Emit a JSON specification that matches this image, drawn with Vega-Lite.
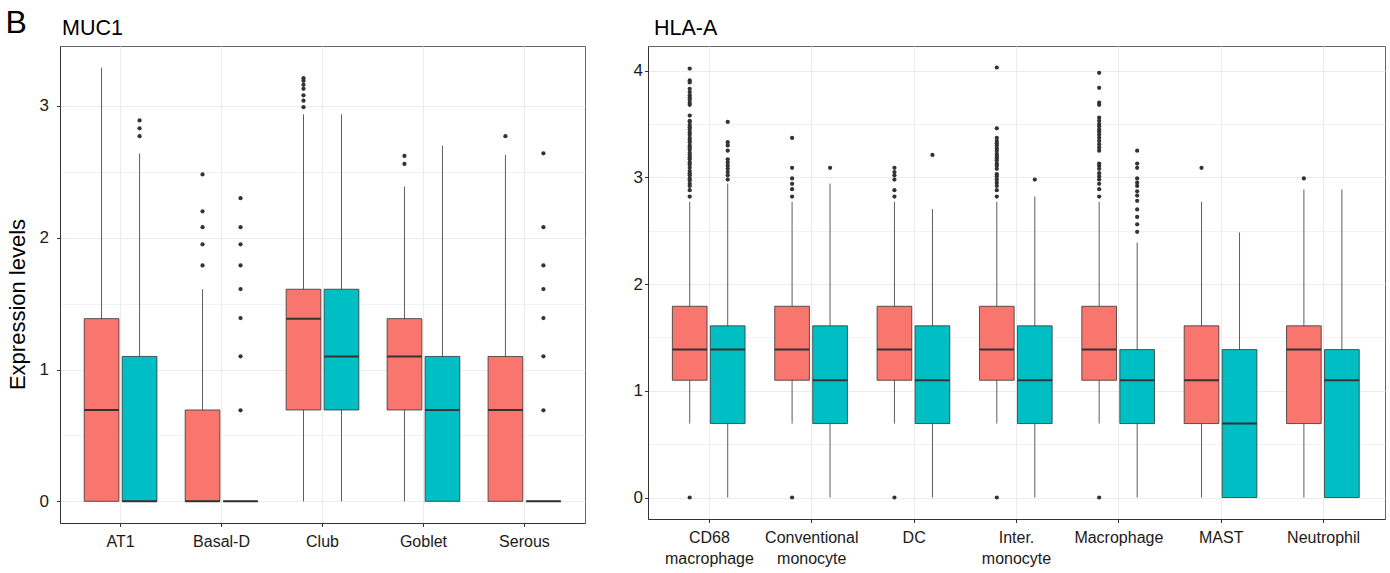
{
  "$schema": "https://vega.github.io/schema/vega-lite/v6.json",
  "background": "white",
  "padding": {"left": 5, "top": 7, "right": 4, "bottom": 5},
  "title": {"text": "B", "anchor": "start", "frame": "bounds", "fontSize": 32, "fontWeight": "normal", "color": "black", "font": "Liberation Sans", "offset": -23},
  "config": {
    "font": "Liberation Sans",
    "view": {"stroke": "#666666", "strokeWidth": 1},
    "axis": {"labelFont": "Liberation Sans", "titleFont": "Liberation Sans", "labelColor": "#1a1a1a", "tickColor": "#333333", "domainColor": "#333333", "gridColor": "#EBEBEB", "tickSize": 3.5},
    "title": {"font": "Liberation Sans", "fontWeight": "normal", "color": "black"}
  },
  "datasets": {
    "boxes": [
      {"panel": "MUC1", "cell": "AT1", "group": "Group 1", "lower": 0, "q1": 0, "median": 0.693, "q3": 1.386, "upper": 3.29, "outliers": []},
      {"panel": "MUC1", "cell": "AT1", "group": "Group 2", "lower": 0, "q1": 0, "median": 0, "q3": 1.099, "upper": 2.639, "outliers": [2.77, 2.83, 2.89]},
      {"panel": "MUC1", "cell": "Basal-D", "group": "Group 1", "lower": 0, "q1": 0, "median": 0, "q3": 0.693, "upper": 1.609, "outliers": [1.79, 1.95, 2.08, 2.2, 2.48]},
      {"panel": "MUC1", "cell": "Basal-D", "group": "Group 2", "lower": 0, "q1": 0, "median": 0, "q3": 0, "upper": 0, "outliers": [0.69, 1.1, 1.39, 1.61, 1.79, 1.95, 2.08, 2.3]},
      {"panel": "MUC1", "cell": "Club", "group": "Group 1", "lower": 0, "q1": 0.693, "median": 1.386, "q3": 1.609, "upper": 2.936, "outliers": [2.99, 3.04, 3.08, 3.13, 3.16, 3.19, 3.21]},
      {"panel": "MUC1", "cell": "Club", "group": "Group 2", "lower": 0, "q1": 0.693, "median": 1.099, "q3": 1.609, "upper": 2.936, "outliers": []},
      {"panel": "MUC1", "cell": "Goblet", "group": "Group 1", "lower": 0, "q1": 0.693, "median": 1.099, "q3": 1.386, "upper": 2.389, "outliers": [2.56, 2.62]},
      {"panel": "MUC1", "cell": "Goblet", "group": "Group 2", "lower": 0, "q1": 0, "median": 0.693, "q3": 1.099, "upper": 2.699, "outliers": []},
      {"panel": "MUC1", "cell": "Serous", "group": "Group 1", "lower": 0, "q1": 0, "median": 0.693, "q3": 1.099, "upper": 2.63, "outliers": [2.77]},
      {"panel": "MUC1", "cell": "Serous", "group": "Group 2", "lower": 0, "q1": 0, "median": 0, "q3": 0, "upper": 0, "outliers": [0.69, 1.1, 1.39, 1.61, 1.79, 2.08, 2.64]},
      {"panel": "HLA-A", "cell": "CD68 macrophage", "group": "Group 1", "lower": 0.693, "q1": 1.099, "median": 1.386, "q3": 1.792, "upper": 2.771, "outliers": [0, 2.82, 2.88, 2.92, 2.94, 2.97, 2.99, 3.02, 3.04, 3.06, 3.09, 3.12, 3.14, 3.17, 3.19, 3.21, 3.23, 3.26, 3.28, 3.3, 3.33, 3.35, 3.37, 3.4, 3.42, 3.45, 3.47, 3.49, 3.52, 3.53, 3.58, 3.68, 3.7, 3.73, 3.75, 3.77, 3.8, 3.83, 3.89, 3.91, 4.02]},
      {"panel": "HLA-A", "cell": "CD68 macrophage", "group": "Group 2", "lower": 0, "q1": 0.693, "median": 1.386, "q3": 1.609, "upper": 2.943, "outliers": [2.98, 3.02, 3.05, 3.08, 3.11, 3.14, 3.17, 3.25, 3.3, 3.33, 3.52]},
      {"panel": "HLA-A", "cell": "Conventional monocyte", "group": "Group 1", "lower": 0.693, "q1": 1.099, "median": 1.386, "q3": 1.792, "upper": 2.771, "outliers": [0, 2.82, 2.89, 2.94, 2.99, 3.09, 3.37]},
      {"panel": "HLA-A", "cell": "Conventional monocyte", "group": "Group 2", "lower": 0, "q1": 0.693, "median": 1.099, "q3": 1.609, "upper": 2.943, "outliers": [3.09]},
      {"panel": "HLA-A", "cell": "DC", "group": "Group 1", "lower": 0.693, "q1": 1.099, "median": 1.386, "q3": 1.792, "upper": 2.771, "outliers": [0, 2.82, 2.88, 2.98, 3.02, 3.05, 3.09]},
      {"panel": "HLA-A", "cell": "DC", "group": "Group 2", "lower": 0, "q1": 0.693, "median": 1.099, "q3": 1.609, "upper": 2.703, "outliers": [3.21]},
      {"panel": "HLA-A", "cell": "Inter. monocyte", "group": "Group 1", "lower": 0.693, "q1": 1.099, "median": 1.386, "q3": 1.792, "upper": 2.771, "outliers": [0, 2.82, 2.88, 2.92, 2.95, 2.98, 3.01, 3.03, 3.08, 3.11, 3.13, 3.16, 3.18, 3.2, 3.22, 3.25, 3.27, 3.3, 3.32, 3.34, 3.37, 3.46, 4.03]},
      {"panel": "HLA-A", "cell": "Inter. monocyte", "group": "Group 2", "lower": 0, "q1": 0.693, "median": 1.099, "q3": 1.609, "upper": 2.821, "outliers": [2.98]},
      {"panel": "HLA-A", "cell": "Macrophage", "group": "Group 1", "lower": 0.693, "q1": 1.099, "median": 1.386, "q3": 1.792, "upper": 2.771, "outliers": [0, 2.82, 2.89, 2.94, 2.98, 3.01, 3.04, 3.08, 3.11, 3.13, 3.25, 3.28, 3.31, 3.34, 3.37, 3.4, 3.43, 3.45, 3.48, 3.5, 3.53, 3.56, 3.68, 3.7, 3.84, 3.98]},
      {"panel": "HLA-A", "cell": "Macrophage", "group": "Group 2", "lower": 0, "q1": 0.693, "median": 1.099, "q3": 1.386, "upper": 2.39, "outliers": [2.49, 2.56, 2.63, 2.7, 2.78, 2.83, 2.87, 2.92, 2.95, 2.99, 3.09, 3.13, 3.25]},
      {"panel": "HLA-A", "cell": "MAST", "group": "Group 1", "lower": 0, "q1": 0.693, "median": 1.099, "q3": 1.609, "upper": 2.771, "outliers": [3.09]},
      {"panel": "HLA-A", "cell": "MAST", "group": "Group 2", "lower": 0, "q1": 0, "median": 0.693, "q3": 1.386, "upper": 2.484, "outliers": []},
      {"panel": "HLA-A", "cell": "Neutrophil", "group": "Group 1", "lower": 0, "q1": 0.693, "median": 1.386, "q3": 1.609, "upper": 2.887, "outliers": [2.99]},
      {"panel": "HLA-A", "cell": "Neutrophil", "group": "Group 2", "lower": 0, "q1": 0, "median": 1.099, "q3": 1.386, "upper": 2.887, "outliers": []}
    ]
  },
  "spacing": 46,
  "hconcat": [
    {
      "width": 525,
      "height": 477,
      "title": {"text": "MUC1", "anchor": "start", "frame": "group", "fontSize": 21.5, "offset": 7, "dx": 2},
      "data": {"name": "boxes"},
      "transform": [{"filter": "datum.panel === 'MUC1'"}],
      "encoding": {
        "x": {"field": "cell", "type": "nominal", "sort": null, "scale": {"paddingInner": 0, "paddingOuter": 0.1},
              "axis": {"title": null, "labelAngle": 0, "labelFontSize": 16, "bandPosition": 0.5, "grid": true, "labelPadding": 7}},
        "xOffset": {"field": "group", "type": "nominal", "sort": null, "scale": {"paddingInner": 0.087, "paddingOuter": 0.372}}
      },
      "layer": [
        {"mark": {"type": "rule", "color": "#333333", "strokeWidth": 0.8},
         "encoding": {
           "y": {"field": "lower", "type": "quantitative", "title": "Expression levels",
                 "scale": {"domain": [-0.1645, 3.4545], "nice": false, "zero": false},
                 "axis": {"values": [0, 0.5, 1, 1.5, 2, 2.5, 3], "labelExpr": "datum.value % 1 === 0 ? format(datum.value, 'd') : ''",
                          "tickOpacity": {"condition": {"test": "datum.value % 1 !== 0", "value": 0}, "value": 1},
                          "gridWidth": {"condition": {"test": "datum.value % 1 !== 0", "value": 0.6}, "value": 1.1},
                          "labelFontSize": 17, "labelPadding": 8, "titleFontSize": 22, "titleFontWeight": "normal", "titleColor": "black", "titlePadding": 10, "titleY": 258}},
           "y2": {"field": "upper"}}},
        {"mark": {"type": "bar", "stroke": "#333333", "strokeWidth": 0.8},
         "encoding": {
           "y": {"field": "q1", "type": "quantitative", "title": "Expression levels"},
           "y2": {"field": "q3"},
           "fill": {"field": "group", "type": "nominal", "scale": {"range": ["#F8766D", "#00BFC4"]}, "legend": null}}},
        {"mark": {"type": "bar", "stroke": "#333333", "strokeWidth": 2, "fillOpacity": 0},
         "encoding": {
           "y": {"field": "median", "type": "quantitative", "title": "Expression levels"},
           "y2": {"field": "median"}}},
        {"transform": [{"flatten": ["outliers"]}],
         "mark": {"type": "point", "filled": true, "color": "#333333", "size": 18, "opacity": 1},
         "encoding": {"y": {"field": "outliers", "type": "quantitative", "title": "Expression levels"}}}
      ]
    },
    {
      "width": 737,
      "height": 473,
      "title": {"text": "HLA-A", "anchor": "start", "frame": "group", "fontSize": 21.5, "offset": 7, "dx": 6},
      "data": {"name": "boxes"},
      "transform": [{"filter": "datum.panel === 'HLA-A'"}],
      "encoding": {
        "x": {"field": "cell", "type": "nominal", "sort": null, "scale": {"paddingInner": 0, "paddingOuter": 0.1},
              "axis": {"title": null, "labelAngle": 0, "labelFontSize": 16, "bandPosition": 0.5, "grid": true, "labelPadding": 7,
                       "labelExpr": "split(datum.label, ' ')", "labelLineHeight": 21}},
        "xOffset": {"field": "group", "type": "nominal", "sort": null, "scale": {"paddingInner": 0.087, "paddingOuter": 0.372}}
      },
      "layer": [
        {"mark": {"type": "rule", "color": "#333333", "strokeWidth": 0.8},
         "encoding": {
           "y": {"field": "lower", "type": "quantitative", "title": null,
                 "scale": {"domain": [-0.2015, 4.2315], "nice": false, "zero": false},
                 "axis": {"values": [0, 0.5, 1, 1.5, 2, 2.5, 3, 3.5, 4], "labelExpr": "datum.value % 1 === 0 ? format(datum.value, 'd') : ''",
                          "tickOpacity": {"condition": {"test": "datum.value % 1 !== 0", "value": 0}, "value": 1},
                          "gridWidth": {"condition": {"test": "datum.value % 1 !== 0", "value": 0.6}, "value": 1.1},
                          "labelFontSize": 17, "labelPadding": 2}},
           "y2": {"field": "upper"}}},
        {"mark": {"type": "bar", "stroke": "#333333", "strokeWidth": 0.8},
         "encoding": {
           "y": {"field": "q1", "type": "quantitative", "title": null},
           "y2": {"field": "q3"},
           "fill": {"field": "group", "type": "nominal", "scale": {"range": ["#F8766D", "#00BFC4"]}, "legend": null}}},
        {"mark": {"type": "bar", "stroke": "#333333", "strokeWidth": 2, "fillOpacity": 0},
         "encoding": {
           "y": {"field": "median", "type": "quantitative", "title": null},
           "y2": {"field": "median"}}},
        {"transform": [{"flatten": ["outliers"]}],
         "mark": {"type": "point", "filled": true, "color": "#333333", "size": 18, "opacity": 1},
         "encoding": {"y": {"field": "outliers", "type": "quantitative", "title": null}}}
      ]
    }
  ]
}
